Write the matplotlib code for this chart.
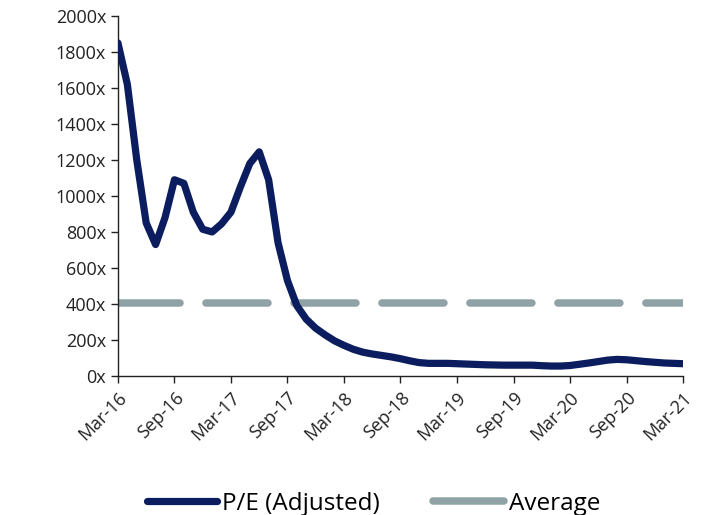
import matplotlib
matplotlib.use("Agg")
import matplotlib.pyplot as plt
from matplotlib.ticker import FuncFormatter
import numpy as np

# 月度 P/E 数据 (Mar-16 .. Mar-21)
pe_adjusted = [1850, 1620, 1200, 850, 730, 880, 1090, 1070, 910, 815,
               800, 845, 910, 1050, 1180, 1245, 1090, 740, 530, 390,
               315, 265, 228, 195, 170, 148, 132, 122, 114, 106,
               96, 84, 74, 70, 70, 70, 68, 66, 64, 62,
               61, 60, 60, 60, 60, 57, 55, 55, 58, 65,
               72, 80, 88, 92, 90, 85, 80, 76, 72, 70, 68]
average_pe = 405
tick_labels = ["Mar-16", "Sep-16", "Mar-17", "Sep-17", "Mar-18", "Sep-18",
               "Mar-19", "Sep-19", "Mar-20", "Sep-20", "Mar-21"]
y_ticks = list(range(0, 2001, 200))

plt.rcParams["font.family"] = ["Open Sans", "DejaVu Sans"]

months = np.arange(len(pe_adjusted))
navy = "#0b1d5e"
grey = "#8fa3a6"

fig = plt.figure(figsize=(7.02, 5.15), dpi=100)
ax = fig.add_axes([0.168, 0.270, 0.805, 0.699])

ax.plot(months, [average_pe] * len(months), color=grey, lw=5.4,
        dashes=(8.27, 3.46), dash_capstyle="round", label="Average", zorder=2)
ax.plot(months, pe_adjusted, color=navy, lw=5.2, solid_capstyle="round",
        solid_joinstyle="round", label="P/E (Adjusted)", zorder=3)

ax.set_xlim(0, 60)
ax.set_ylim(0, 2000)
ax.set_xticks(np.arange(0, 61, 6))
ax.set_xticklabels(tick_labels, rotation=45, ha="right", rotation_mode="anchor")
ax.set_yticks(y_ticks)
ax.yaxis.set_major_formatter(FuncFormatter(lambda v, p: f"{int(v)}x"))
ax.tick_params(labelsize=13, colors="#222222", length=5, width=1)
ax.tick_params(axis="x", pad=4)

for s in ["top", "right"]:
    ax.spines[s].set_visible(False)
for s in ["left", "bottom"]:
    ax.spines[s].set_color("#222222")
    ax.spines[s].set_linewidth(1)

handles, labels = ax.get_legend_handles_labels()
leg = fig.legend(handles[::-1], labels[::-1], loc="center", ncol=2,
                 bbox_to_anchor=(0.532, 0.022), frameon=False, fontsize=17.5,
                 handlelength=2.9, columnspacing=2.2, handletextpad=0.2)
for line in leg.get_lines():
    line.set_linestyle("-")
    line.set_solid_capstyle("round")

fig.savefig("out.png", dpi=100)
